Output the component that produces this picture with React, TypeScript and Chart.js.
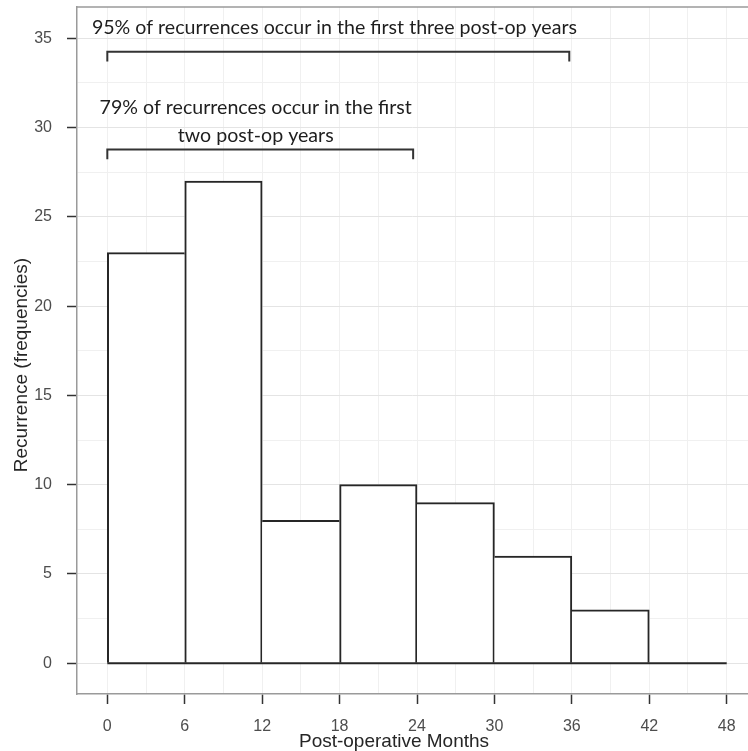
import React, { useEffect, useRef } from 'react';
import { Chart, registerables } from 'chart.js';

Chart.register(...registerables);

// ---- data ----
const binEdges = [0, 6, 12, 18, 24, 30, 36, 42, 48];
const binCounts = [23, 27, 8, 10, 9, 6, 3, 0];
const yTickLabels = ['0', '5', '10', '15', '20', '25', '30', '35'];
const xTickLabels = ['0', '6', '12', '18', '24', '30', '36', '42', '48'];

const annotationLines = [
  '95% of recurrences occur in the first three post-op years',
  '79% of recurrences occur in the first',
  'two post-op years',
];
const annotationX = [17.6, 11.5, 11.5];
const annotationY = [35.24, 30.76, 29.2];

const bracketStart = [0, 0];
const bracketEnd = [35.8, 23.7];
const bracketY = [34.25, 28.77];
const bracketDrop = 0.55;

const xTitle = 'Post-operative Months';
const yTitle = 'Recurrence (frequencies)';

// ---- style ----
const LW = 2;
const BAR_LINE = '#262626';
const AXIS_GREY = '#9a9a9a';
const GRID_MAJOR = '#e4e4e4';
const GRID_MINOR = '#f0f0f0';
const TICK_COLOR = '#4d4d4d';

const X_MIN = -2.35;
const X_MAX = 49.65;
const Y_MIN = -1.72;
const Y_MAX = 36.75;

const overlayPlugin = {
  id: 'overlay',
  afterDatasetsDraw(chart: any) {
    const { ctx, scales, chartArea } = chart;
    const x = scales.x;
    const y = scales.y;
    ctx.save();
    // top border of the panel
    ctx.strokeStyle = AXIS_GREY;
    ctx.lineWidth = 1.5;
    ctx.beginPath();
    ctx.moveTo(chartArea.left, chartArea.top);
    ctx.lineTo(chartArea.right, chartArea.top);
    ctx.stroke();

    // brackets
    ctx.strokeStyle = '#333333';
    ctx.lineWidth = LW;
    bracketY.forEach((by, i) => {
      const x0 = x.getPixelForValue(bracketStart[i]);
      const x1 = x.getPixelForValue(bracketEnd[i]);
      const yy = y.getPixelForValue(by);
      const yd = y.getPixelForValue(by - bracketDrop);
      ctx.beginPath();
      ctx.moveTo(x0, yd);
      ctx.lineTo(x0, yy);
      ctx.lineTo(x1, yy);
      ctx.lineTo(x1, yd);
      ctx.stroke();
    });

    // annotation text
    ctx.font = '19.6px Lato';
    ctx.fillStyle = '#1e1e1e';
    ctx.textAlign = 'center';
    ctx.textBaseline = 'alphabetic';
    annotationLines.forEach((t, i) => {
      ctx.fillText(t, x.getPixelForValue(annotationX[i]), y.getPixelForValue(annotationY[i]));
    });

    // axis titles
    ctx.font = '19px "Liberation Sans", Arial, sans-serif';
    ctx.fillStyle = '#262626';
    ctx.fillText(xTitle, 394, chart.height - 4);
    ctx.save();
    ctx.translate(27, 365);
    ctx.rotate(-Math.PI / 2);
    ctx.fillText(yTitle, 0, 0);
    ctx.restore();
    ctx.restore();
  },
};

const zeroPad = (s: any) => {
  s.paddingTop = 0;
  s.paddingBottom = 0;
  s.paddingLeft = 0;
  s.paddingRight = 0;
};

function App() {
  const canvasRef = useRef<HTMLCanvasElement | null>(null);

  useEffect(() => {
    if (!canvasRef.current) return;
    const barData = binCounts.map((c, i) => ({ x: (binEdges[i] + binEdges[i + 1]) / 2, y: c }));
    const baseline = [
      { x: binEdges[0], y: 0 },
      { x: binEdges[binEdges.length - 1], y: 0 },
    ];
    const isMajorY = (c: any) => c.tick && yTickLabels.includes(String(c.tick.value));
    const chart = new Chart(canvasRef.current, {
      type: 'bar',
      data: {
        datasets: [
          {
            type: 'bar',
            label: 'Recurrences',
            data: barData,
            backgroundColor: '#ffffff',
            borderColor: BAR_LINE,
            borderSkipped: false,
            barPercentage: 1,
            categoryPercentage: 1,
            xAxisID: 'x',
            yAxisID: 'y',
            borderWidth: (c: any) => {
              const i = c.dataIndex;
              const v = binCounts[i];
              const prev = i > 0 ? binCounts[i - 1] : 0;
              const next = i < binCounts.length - 1 ? binCounts[i + 1] : 0;
              return { top: LW, left: v >= prev ? LW : 0, right: v > next ? LW : 0, bottom: 0 };
            },
            order: 2,
          } as any,
          {
            type: 'line',
            label: 'baseline',
            data: baseline,
            borderColor: BAR_LINE,
            borderWidth: LW,
            pointRadius: 0,
            fill: false,
            xAxisID: 'x',
            yAxisID: 'y',
            order: 1,
          } as any,
        ],
      },
      options: {
        animation: false,
        responsive: false,
        maintainAspectRatio: false,
        layout: { padding: { top: 7, right: 0, left: 0, bottom: 0 } },
        plugins: {
          legend: { display: false },
          tooltip: { enabled: false },
          title: { display: false },
        },
        scales: {
          x: {
            type: 'linear',
            position: 'bottom',
            min: X_MIN,
            max: X_MAX,
            offset: false,
            grid: {
              offset: false,
              color: GRID_MAJOR,
              lineWidth: 1,
              drawTicks: true,
              tickLength: 10,
              tickColor: '#333333',
              tickWidth: 1.5,
            },
            border: { display: true, color: AXIS_GREY, width: 1.5 },
            ticks: {
              stepSize: 6,
              includeBounds: false,
              maxRotation: 0,
              autoSkip: false,
              padding: 13,
              color: TICK_COLOR,
              font: { family: '"Liberation Sans", Arial, sans-serif', size: 16 },
              callback: (v: any) => (xTickLabels.includes(String(v)) ? String(v) : ''),
            },
            afterFit: (s: any) => {
              s.height = 57;
              zeroPad(s);
            },
          } as any,
          xMinor: {
            type: 'linear',
            position: 'bottom',
            min: X_MIN,
            max: X_MAX,
            offset: false,
            grid: {
              offset: false,
              color: GRID_MINOR,
              lineWidth: 1,
              drawTicks: false,
            },
            border: { display: false },
            ticks: { stepSize: 3, includeBounds: false, display: false },
            afterFit: (s: any) => {
              s.height = 0;
              zeroPad(s);
            },
          } as any,
          y: {
            type: 'linear',
            position: 'left',
            min: Y_MIN,
            max: Y_MAX,
            beginAtZero: false,
            grid: {
              color: (c: any) => (isMajorY(c) ? GRID_MAJOR : GRID_MINOR),
              lineWidth: 1,
              drawTicks: true,
              tickLength: 10,
              tickColor: (c: any) => (isMajorY(c) ? '#333333' : 'rgba(0,0,0,0)'),
              tickWidth: 1.5,
            },
            border: { display: true, color: AXIS_GREY, width: 1.5 },
            ticks: {
              stepSize: 2.5,
              includeBounds: false,
              autoSkip: false,
              padding: 15,
              color: TICK_COLOR,
              font: { family: '"Liberation Sans", Arial, sans-serif', size: 16 },
              callback: (v: any) => (yTickLabels.includes(String(v)) ? String(v) : ''),
            },
            afterFit: (s: any) => {
              s.width = 77;
              zeroPad(s);
            },
          } as any,
        },
      },
      plugins: [overlayPlugin],
    });
    return () => chart.destroy();
  }, []);

  return (
    <div style={{ position: 'absolute', left: 0, top: 0, width: 748, height: 751, background: '#fff' }}>
      <canvas ref={canvasRef} width={748} height={751} style={{ display: 'block' }} />
    </div>
  );
}

export default App;
